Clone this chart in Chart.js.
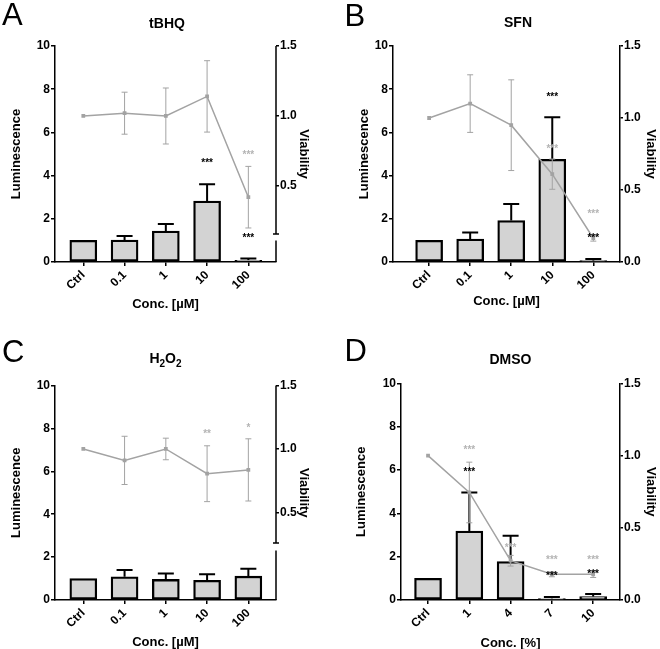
<!DOCTYPE html>
<html>
<head>
<meta charset="utf-8">
<script src="https://cdn.jsdelivr.net/npm/chart.js@4.4.1/dist/chart.umd.min.js"></script>
<style>
  body { margin: 0; background: #fff; }
  #wrap { position: relative; width: 660px; height: 649px; }
  .p { position: absolute; width: 330px; height: 311px; }
</style>
</head>
<body>
<div id="wrap">
  <div class="p" style="left:0;top:0"><canvas id="cA" width="330" height="311"></canvas></div>
  <div class="p" style="left:330px;top:0"><canvas id="cB" width="330" height="311"></canvas></div>
  <div class="p" style="left:0;top:338px"><canvas id="cC" width="330" height="311"></canvas></div>
  <div class="p" style="left:330px;top:338px"><canvas id="cD" width="330" height="311"></canvas></div>
</div>
<script>
// categories
const catsUM = ['Ctrl', '0.1', '1', '10', '100']
const catsPct = ['Ctrl', '1', '4', '7', '10']

// A - tBHQ
const lumA = [1.0, 1.02, 1.43, 2.82, 0.08]
const lumErrA = [0, 0.18, 0.33, 0.78, 0.08]
const viaA = [1.0, 1.02, 1.0, 1.14, 0.42]
const viaErrA = [0, 0.15, 0.2, 0.255, 0.22]
const starsLumA = [[3, 4.57, '***'], [4, 1.1, '***']]
const starsViaA = [[4, 0.72, '***']]

// B - SFN
const lumB = [1.0, 1.06, 1.92, 4.75, 0.06]
const lumErrB = [0, 0.31, 0.77, 1.95, 0.08]
const viaB = [1.0, 1.1, 0.95, 0.61, 0.165]
const viaErrB = [0, 0.2, 0.315, 0.105, 0.02]
const starsLumB = [[3, 7.63, '***'], [4, 1.1, '***']]
const starsViaB = [[3, 0.78, '***'], [4, 0.335, '***']]

// C - H2O2
const lumC = [1.0, 1.08, 0.96, 0.92, 1.11]
const lumErrC = [0, 0.32, 0.27, 0.28, 0.35]
const viaC = [1.0, 0.91, 1.0, 0.805, 0.835]
const viaErrC = [0, 0.19, 0.085, 0.22, 0.245]
const starsLumC = []
const starsViaC = [[3, 1.113, '**'], [4, 1.16, '*']]

// D - DMSO
const lumD = [1.0, 3.18, 1.78, 0.07, 0.16]
const lumErrD = [0, 1.79, 1.19, 0.07, 0.12]
const viaD = [1.0, 0.745, 0.272, 0.178, 0.178]
const viaErrD = [0, 0.21, 0.037, 0.017, 0.022]
const starsLumD = [[1, 5.92, '***'], [3, 1.08, '***'], [4, 1.2, '***']]
const starsViaD = [[1, 1.038, '***'], [2, 0.36, '***'], [3, 0.272, '***'], [4, 0.272, '***']]

const lumTicks = [0, 2, 4, 6, 8, 10]
const viaTicksFull = [0, 0.5, 1, 1.5]
const viaTicksCut = [0.5, 1, 1.5]

const FONT = "'Liberation Sans', Arial, sans-serif"
const barFill = '#d3d3d3'
const lineCol = '#a3a3a3'
const starGrey = '#b4b4b4'

Chart.defaults.font.family = FONT
Chart.defaults.color = '#000'

const panelPlugin = {
    id: 'panel',
    beforeDatasetsDraw(chart, args, o) {
        const {ctx, scales: {x, y}} = chart
        ctx.save()
        ctx.strokeStyle = '#000'
        ctx.lineWidth = 2
        o.lum.forEach((v, i) => {
            if (!o.lumErr[i]) return
            const px = x.getPixelForValue(i)
            const top = y.getPixelForValue(v + o.lumErr[i])
            ctx.beginPath()
            ctx.moveTo(px, y.getPixelForValue(v))
            ctx.lineTo(px, top)
            ctx.moveTo(px - 8, top)
            ctx.lineTo(px + 8, top)
            ctx.stroke()
        })
        ctx.restore()
    },
    afterDatasetsDraw(chart, args, o) {
        const {ctx, scales: {x, y, y1}} = chart
        ctx.save()
        ctx.strokeStyle = lineCol
        ctx.lineWidth = 1
        o.via.forEach((v, i) => {
            if (!o.viaErr[i]) return
            const px = x.getPixelForValue(i)
            const hi = y1.getPixelForValue(v + o.viaErr[i])
            const lo = y1.getPixelForValue(v - o.viaErr[i])
            ctx.beginPath()
            ctx.moveTo(px, hi); ctx.lineTo(px, lo)
            ctx.moveTo(px - 3, hi); ctx.lineTo(px + 3, hi)
            ctx.moveTo(px - 3, lo); ctx.lineTo(px + 3, lo)
            ctx.stroke()
        })
        ctx.font = 'bold 10px ' + FONT
        ctx.textAlign = 'center'
        ctx.textBaseline = 'middle'
        ctx.fillStyle = '#000'
        o.starsLum.forEach(s => ctx.fillText(s[2], x.getPixelForValue(s[0]), y.getPixelForValue(s[1])))
        ctx.fillStyle = starGrey
        o.starsVia.forEach(s => ctx.fillText(s[2], x.getPixelForValue(s[0]), y1.getPixelForValue(s[1])))
        ctx.restore()
    },
    afterDraw(chart, args, o) {
        const {ctx, chartArea, scales: {y1}} = chart
        ctx.save()
        // broken right axis
        if (o.brk) {
            const r = chartArea.right
            const yHi = y1.getPixelForValue(o.brk[0])
            const yLo = y1.getPixelForValue(o.brk[1])
            ctx.strokeStyle = '#000'
            ctx.lineWidth = 1.5
            ctx.beginPath()
            ctx.moveTo(r, chartArea.top); ctx.lineTo(r, yHi)
            ctx.moveTo(r - 3, yHi); ctx.lineTo(r + 3, yHi)
            ctx.moveTo(r, yLo); ctx.lineTo(r, chartArea.bottom)
            ctx.stroke()
        }
        // panel letter
        ctx.fillStyle = '#000'
        ctx.font = '31px ' + FONT
        ctx.textAlign = 'left'
        ctx.textBaseline = 'alphabetic'
        ctx.fillText(o.letter, o.letterPos[0], o.letterPos[1])
        // title with optional subscripts
        const big = 'bold 14px ' + FONT, small = 'bold 10px ' + FONT
        let w = 0
        o.title.forEach(seg => { ctx.font = seg[1] ? small : big; w += ctx.measureText(seg[0]).width })
        let tx = o.titlePos[0] - w / 2
        ctx.textBaseline = 'middle'
        o.title.forEach(seg => {
            ctx.font = seg[1] ? small : big
            ctx.fillText(seg[0], tx, o.titlePos[1] + (seg[1] ? 5 : 0))
            tx += ctx.measureText(seg[0]).width
        })
        ctx.restore()
    }
}

const makePanel = (id, cats, lum, lumErr, via, viaErr, starsLum, starsVia, p) => {
    const axisFont = {size: 13, weight: 'bold', family: FONT}
    const tickFont = {size: 12, weight: 'bold', family: FONT}
    new Chart(document.getElementById(id).getContext('2d'), {
        type: 'bar',
        data: {
            datasets: [{
                type: 'line',
                data: via.map((v, i) => ({x: i, y: v})),
                yAxisID: 'y1',
                borderColor: lineCol,
                backgroundColor: lineCol,
                borderWidth: 1.5,
                pointStyle: 'rect',
                pointRadius: 1.6,
                order: 0
            }, {
                data: lum.map((v, i) => ({x: i, y: v})),
                yAxisID: 'y',
                backgroundColor: barFill,
                borderColor: '#000',
                borderWidth: 2.3,
                borderSkipped: false,
                barThickness: 27,
                order: 1
            }]
        },
        options: {
            responsive: false,
            animation: false,
            layout: {padding: {left: 0, right: 0, top: p.top, bottom: 0}},
            plugins: {
                legend: {display: false},
                tooltip: {enabled: false},
                panel: {
                    lum, lumErr, via, viaErr, starsLum, starsVia,
                    brk: p.brk, letter: p.letter, letterPos: p.letterPos,
                    title: p.title, titlePos: p.titlePos
                }
            },
            scales: {
                x: {
                    type: 'linear',
                    min: p.xMin, max: p.xMax,
                    offset: false,
                    afterFit: s => { s.height = 311 - p.bottom },
                    afterBuildTicks: s => { s.ticks = cats.map((c, i) => ({value: i})) },
                    ticks: {
                        callback: v => cats[v],
                        minRotation: 45, maxRotation: 45,
                        font: tickFont, padding: 2
                    },
                    grid: {drawOnChartArea: false, offset: false, color: '#000', lineWidth: 1.5, tickLength: 4},
                    border: {color: '#000', width: 1.5},
                    title: {display: true, text: p.xTitle, font: axisFont, padding: {top: 0, bottom: p.tb}}
                },
                y: {
                    position: 'left',
                    min: 0, max: 10,
                    afterFit: s => { s.width = p.left },
                    afterBuildTicks: s => { s.ticks = lumTicks.map(v => ({value: v})) },
                    ticks: {font: tickFont, padding: 1},
                    grid: {drawOnChartArea: false, color: '#000', lineWidth: 1.5, tickLength: 4},
                    border: {color: '#000', width: 1.5},
                    title: {display: true, text: 'Luminescence', font: axisFont, padding: {top: p.tl, bottom: 0}}
                },
                y1: {
                    position: 'right',
                    min: p.yMinR, max: 1.5,
                    afterFit: s => { s.width = 330 - p.right },
                    afterBuildTicks: s => { s.ticks = p.viaTicks.map(v => ({value: v})) },
                    ticks: {font: tickFont, padding: 1, callback: v => v.toFixed(1)},
                    grid: {drawOnChartArea: false, color: '#000', lineWidth: 1.5, tickLength: 3},
                    border: {display: !p.brk, color: '#000', width: 1.5},
                    title: {display: true, text: 'Viability', font: axisFont, padding: {top: p.tr, bottom: 0}}
                }
            }
        },
        plugins: [panelPlugin]
    })
}

makePanel('cA', catsUM, lumA, lumErrA, viaA, viaErrA, starsLumA, starsViaA, {
    left: 55, right: 276, top: 46, bottom: 262, xMin: -0.686, xMax: 4.67,
    yMinR: -0.043, viaTicks: viaTicksCut, brk: [0.157, 0.11],
    tl: 8.7, tr: 18.2, tb: -1.3, xTitle: 'Conc. [µM]',
    letter: 'A', letterPos: [2, 25], title: [['tBHQ', 0]], titlePos: [167, 24.5]
})
makePanel('cB', catsUM, lumB, lumErrB, viaB, viaErrB, starsLumB, starsViaB, {
    left: 63, right: 290, top: 46, bottom: 262, xMin: -0.88, xMax: 4.65,
    yMinR: 0, viaTicks: viaTicksFull, brk: null,
    tl: 26.2, tr: 1.7, tb: 1.7, xTitle: 'Conc. [µM]',
    letter: 'B', letterPos: [14.6, 26], title: [['SFN', 0]], titlePos: [188, 23]
})
makePanel('cC', catsUM, lumC, lumErrC, viaC, viaErrC, starsLumC, starsViaC, {
    left: 55, right: 276, top: 47.5, bottom: 262, xMin: -0.686, xMax: 4.67,
    yMinR: -0.19, viaTicks: viaTicksCut, brk: [0.26, 0.2],
    tl: 8.7, tr: 18.2, tb: -0.8, xTitle: 'Conc. [µM]',
    letter: 'C', letterPos: [2, 23.5], title: [['H', 0], ['2', 1], ['O', 0], ['2', 1]], titlePos: [165.5, 21.5]
})
makePanel('cD', catsPct, lumD, lumErrD, viaD, viaErrD, starsLumD, starsViaD, {
    left: 71, right: 290, top: 45.5, bottom: 262, xMin: -0.655, xMax: 4.65,
    yMinR: 0, viaTicks: viaTicksFull, brk: null,
    tl: 23.9, tr: 1.7, tb: -1.8, xTitle: 'Conc. [%]',
    letter: 'D', letterPos: [14.6, 22.5], title: [['DMSO', 0]], titlePos: [180.5, 22]
})
</script>
</body>
</html>
